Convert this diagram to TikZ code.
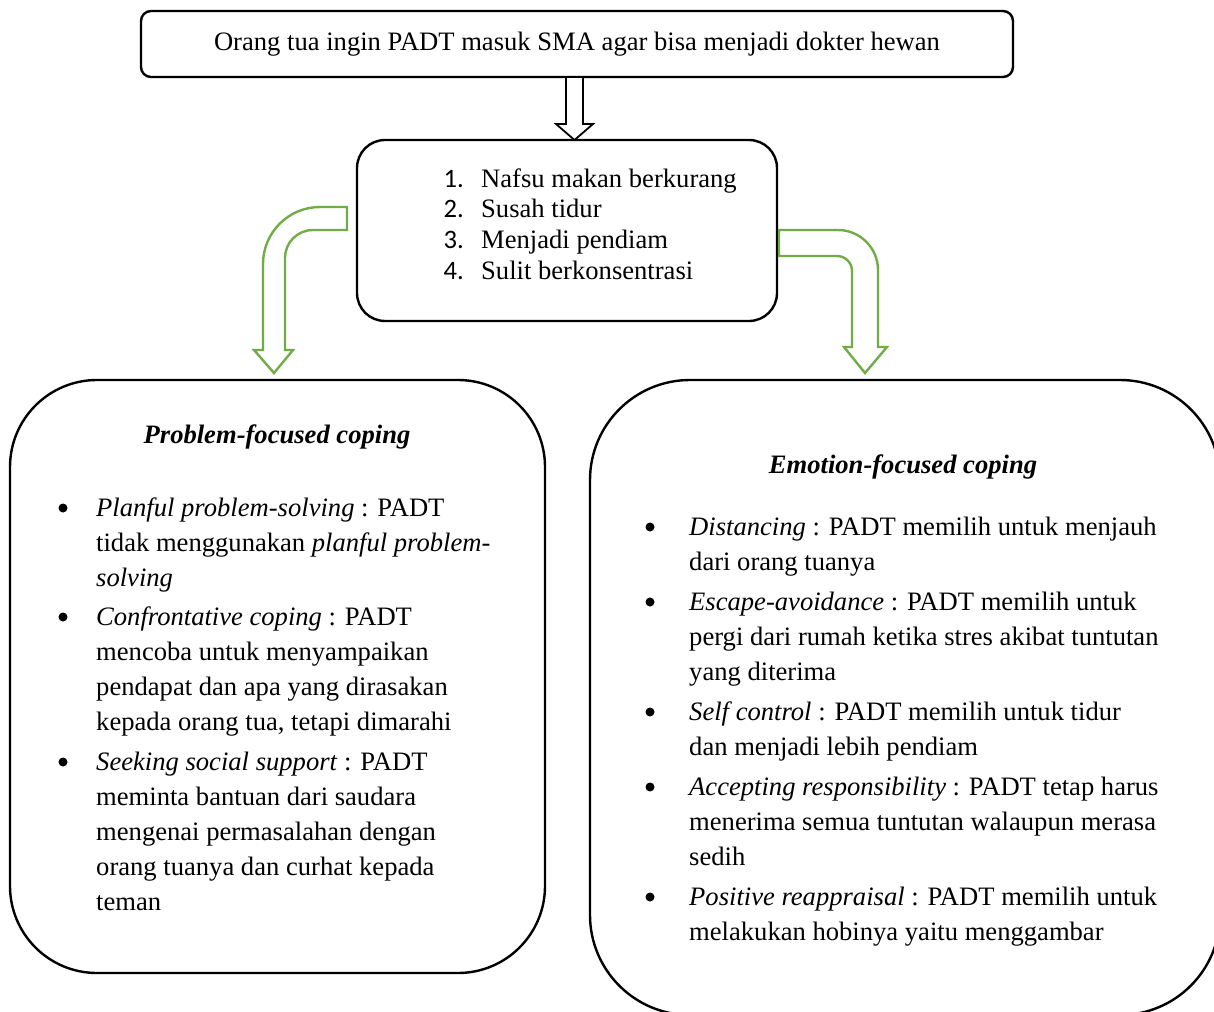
\documentclass[tikz,border=0pt]{standalone}
\usepackage{fontspec}
\setmainfont{Liberation Serif}
\newfontfamily\numfont{Carlito}
\definecolor{arrowgreen}{HTML}{70AD47}

\tikzset{
  box/.style={draw, line width=2.4pt, rounded corners=#1, inner sep=0pt},
  hollow/.style={draw, line width=1.8pt, fill=white, line join=miter},
  greenhollow/.style={draw=arrowgreen, line width=2.4pt, fill=white, line join=miter},
  dot/.style={circle, fill=black, inner sep=0pt, minimum size=9pt},
  itemtext/.style={anchor=base west, align=left, inner sep=0pt},
  headtext/.style={anchor=base, inner sep=0pt,
    font=\fontsize{26.6}{35}\selectfont\bfseries\itshape}
}

\begin{document}
\begin{tikzpicture}[x=1pt, y=-1pt, font=\fontsize{26.6}{35}\selectfont]

  \path[use as bounding box, clip] (0,0) rectangle (1214,1011);
  \fill[white] (0,0) rectangle (1214,1011);

  % boxes
  \node[box=10pt, minimum width=872pt, minimum height=66pt] (top) at (577,44)
    {Orang tua ingin PADT masuk SMA agar bisa menjadi dokter hewan};
  \node[box=28pt, minimum width=420pt, minimum height=181pt] (mid) at (567,230.5) {};
  \node[box=87pt, minimum width=535pt, minimum height=593pt] (left) at (277.5,676.5) {};
  \node[box=100pt, minimum width=630pt, minimum height=635pt] (right) at (905,697.5) {};

  % black arrow
  \draw[hollow] (566,77) -- (566,124) -- (556,124) -- (574.5,140)
    -- (593,124) -- (583,124) -- (583,77) -- cycle;

  % green arrows
  \draw[greenhollow] (347,207) -- (320,207)
    .. controls (288.5,207) and (263,232.5) .. (263,264)
    -- (263,350) -- (254,350) -- (274,373) -- (293,350) -- (285,350)
    -- (285,258) .. controls (285,242.5) and (297.5,230) .. (313,230)
    -- (347,230) -- cycle;
  \draw[greenhollow] (779,230) -- (838,230)
    .. controls (860,230) and (878,248) .. (878,270)
    -- (878,347) -- (887,347) -- (865,373) -- (844,347) -- (852,347)
    -- (852,271) .. controls (852,262.7) and (845.3,256) .. (837,256)
    -- (779,256) -- cycle;

  % symptoms
  \foreach \n/\y/\txt in {1/187/Nafsu makan berkurang, 2/217/Susah tidur,
                          3/248/Menjadi pendiam, 4/279/Sulit berkonsentrasi} {
    \node[anchor=base east, inner sep=0pt, font=\numfont\fontsize{26.6}{35}\selectfont] (n\n) at (464,\y) {\n.};
    \node[itemtext] (m\n) at (481,\y) {\txt};
  }

  % problem-focused (base = last line)
  \node[headtext] (ptitle) at (277,443) {Problem-focused coping};
  \node[itemtext] (p1) at (96,586) {\textit{Planful problem-solving} : PADT\\
    tidak menggunakan \textit{planful problem-}\\ \textit{solving}};
  \node[itemtext] (p2) at (96,730) {\textit{Confrontative coping} : PADT\\
    mencoba untuk menyampaikan\\ pendapat dan apa yang dirasakan\\
    kepada orang tua, tetapi dimarahi};
  \node[itemtext] (p3) at (96,910) {\textit{Seeking social support} : PADT\\
    meminta bantuan dari saudara\\ mengenai permasalahan dengan\\
    orang tuanya dan curhat kepada\\ teman};
  \foreach \y [count=\i] in {516,625,770}
    \node[dot] (pd\i) at (63,\y-8) {};

  % emotion-focused
  \node[headtext] (etitle) at (903,473) {Emotion-focused coping};
  \node[itemtext] (e1) at (689,570) {\textit{Distancing} : PADT memilih untuk menjauh\\
    dari orang tuanya};
  \node[itemtext] (e2) at (689,680) {\textit{Escape-avoidance} : PADT memilih untuk\\
    pergi dari rumah ketika stres akibat tuntutan\\ yang diterima};
  \node[itemtext] (e3) at (689,755) {\textit{Self control} : PADT memilih untuk tidur\\
    dan menjadi lebih pendiam};
  \node[itemtext] (e4) at (689,865) {\textit{Accepting responsibility} : PADT tetap harus\\
    menerima semua tuntutan walaupun merasa\\ sedih};
  \node[itemtext] (e5) at (689,940) {\textit{Positive reappraisal} : PADT memilih untuk\\
    melakukan hobinya yaitu menggambar};
  \foreach \y [count=\i] in {535,610,720,795,905}
    \node[dot] (ed\i) at (650,\y-8) {};

\end{tikzpicture}
\end{document}
